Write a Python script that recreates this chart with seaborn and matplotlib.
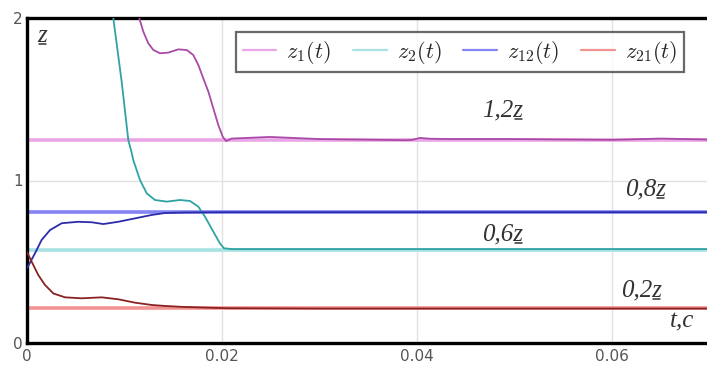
import numpy as np
import pandas as pd
import matplotlib
matplotlib.use("Agg")
import matplotlib.pyplot as plt
from matplotlib.lines import Line2D
import seaborn as sns

# ---------------- data ----------------
t_z1 = [0.0100, 0.0108, 0.01152, 0.01193, 0.01244, 0.01296, 0.01364, 0.01449, 0.01552,
        0.01638, 0.01706, 0.01757, 0.01808, 0.0186, 0.01911, 0.01962, 0.02007, 0.02041,
        0.0210, 0.0249, 0.0280, 0.0300, 0.0389, 0.0395, 0.0403, 0.0413, 0.0437,
        0.0500, 0.0560, 0.0600, 0.0650, 0.0700]
z1 = [2.45, 2.20, 1.998, 1.916, 1.844, 1.803, 1.783, 1.787, 1.807,
      1.803, 1.772, 1.711, 1.629, 1.547, 1.444, 1.342, 1.27, 1.243,
      1.258, 1.268, 1.26, 1.255, 1.248, 1.250, 1.262, 1.257, 1.255,
      1.255, 1.252, 1.250, 1.258, 1.252]

t_z2 = [0.0075, 0.0082, 0.00885, 0.00971, 0.01039, 0.01074, 0.0109, 0.01159, 0.01228,
        0.01313, 0.01433, 0.01569, 0.01672, 0.01757, 0.01826, 0.01911, 0.01979, 0.0202,
        0.0210, 0.0300, 0.0400, 0.0500, 0.0600, 0.0700]
z2 = [2.75, 2.35, 2.00, 1.608, 1.249, 1.17, 1.126, 1.003, 0.921,
      0.880, 0.870, 0.880, 0.874, 0.839, 0.777, 0.685, 0.613, 0.583,
      0.578, 0.578, 0.578, 0.578, 0.578, 0.578]

t_z12 = [0.0, 0.00082, 0.0015, 0.00236, 0.00356, 0.00526, 0.00663, 0.00783, 0.00937,
         0.01108, 0.01279, 0.01415, 0.01603, 0.0200, 0.0300, 0.0400, 0.0500, 0.0600,
         0.0700]
z12 = [0.46, 0.552, 0.634, 0.695, 0.737, 0.746, 0.743, 0.732, 0.746,
       0.767, 0.788, 0.800, 0.803, 0.805, 0.805, 0.805, 0.805, 0.805,
       0.805]

t_z21 = [0.0, 0.00048, 0.00116, 0.00185, 0.0027, 0.0039, 0.00561, 0.00766, 0.00937,
         0.01108, 0.01279, 0.01415, 0.0160, 0.0205, 0.0300, 0.0400, 0.0500, 0.0600,
         0.0700]
z21 = [0.56, 0.50, 0.418, 0.357, 0.305, 0.281, 0.275, 0.281, 0.269,
       0.248, 0.234, 0.228, 0.222, 0.214, 0.212, 0.212, 0.212, 0.212,
       0.212]

ref_levels = [1.25, 0.575, 0.808, 0.215]
ref_texts = ["1,2", "0,6", "0,8", "0,2"]
ref_text_t = [0.0488, 0.0488, 0.0634, 0.0630]
ref_text_z = [1.43, 0.67, 0.945, 0.325]
series_labels = [r"$z_1(t)$", r"$z_2(t)$", r"$z_{12}(t)$", r"$z_{21}(t)$"]
x_ticks = [0, 0.02, 0.04, 0.06]
x_ticklabels = ["0", "0.02", "0.04", "0.06"]
y_ticks = [0, 1, 2]

curve_colors = ["#a94aa8", "#2fa3a3", "#2c2caa", "#8a2222"]
ref_colors = ["#eaa6e6", "#a8e2e2", "#8484f5", "#f29393"]

# ---------------- figure ----------------
sns.set_theme(style="white")
plt.rcParams["mathtext.fontset"] = "cm"

fig = plt.figure(figsize=(7.07, 3.65), dpi=100)
ax = fig.add_axes([27 / 707, 1 - 343 / 365, 680 / 707, 325 / 365])

for lvl, c, lab in zip(ref_levels, ref_colors, series_labels):
    ax.axhline(lvl, color=c, lw=2.6, zorder=2, label=lab)

data = [(t_z1, z1), (t_z2, z2), (t_z12, z12), (t_z21, z21)]
for (tt, zz), c in zip(data, curve_colors):
    df = pd.DataFrame({"t": tt, "z": zz})
    sns.lineplot(data=df, x="t", y="z", color=c, lw=1.3, ax=ax, zorder=3)

ax.set_xlim(0, 680 / 9750)
ax.set_ylim(0, 2)
ax.set_xticks(x_ticks)
ax.set_xticklabels(x_ticklabels)
ax.set_yticks(y_ticks)
ax.set_xlabel("")
ax.set_ylabel("")
ax.grid(True, color="#e2e2e2", lw=1.0)
ax.set_axisbelow(True)
ax.tick_params(axis="both", length=0, labelsize=11, colors="#555555")
ax.tick_params(axis="x", pad=4)
ax.tick_params(axis="y", pad=3)

for s in ["left", "bottom", "top"]:
    ax.spines[s].set_color("black")
    ax.spines[s].set_linewidth(2.4)
ax.spines["right"].set_visible(False)

serif = ["Liberation Serif", "DejaVu Serif"]
tprops = dict(family=serif, style="italic", fontsize=18, color="#333333",
              va="center", zorder=5)
ul_texts = []
for txt, tx, tz in zip(ref_texts, ref_text_t, ref_text_z):
    ul_texts.append(ax.text(tx, tz, txt + "z", ha="center", **tprops))
ax.text(0.0672, 0.13, "t,c", ha="center", **tprops)
ul_texts.append(ax.text(0.0016, 1.89, "z", ha="center", **tprops))

leg = ax.legend(loc="upper right", bbox_to_anchor=(0.966, 0.957), ncol=4,
                fontsize=16, frameon=True, fancybox=False, handlelength=1.5,
                columnspacing=1.0, handletextpad=0.45, borderpad=0.3,
                borderaxespad=0.0)
leg.get_frame().set_edgecolor("#444444")
leg.get_frame().set_linewidth(1.6)
for h in leg.get_lines():
    h.set_linewidth(1.6)

# underline the trailing "z" of each label
fig.canvas.draw()
r = fig.canvas.get_renderer()
tmp = ax.text(0, 0, "z", ha="left", **tprops)
wz = tmp.get_window_extent(r).width
tmp.remove()
inv = fig.transFigure.inverted()
for tobj in ul_texts:
    bb = tobj.get_window_extent(r)
    x0, x1 = bb.x1 - wz + 1, bb.x1 - 1.5
    y = bb.y0 + 2.5
    (fx0, fy), (fx1, _) = inv.transform([(x0, y), (x1, y)])
    fig.add_artist(Line2D([fx0, fx1], [fy, fy], transform=fig.transFigure,
                          color="#333333", lw=1.1))

fig.savefig("out.png", dpi=100)
